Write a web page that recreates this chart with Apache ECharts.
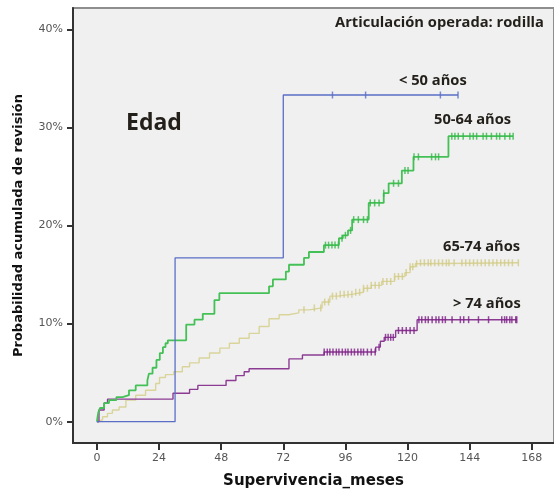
<!DOCTYPE html>
<html>
<head>
<meta charset="utf-8">
<script src="https://cdn.jsdelivr.net/npm/echarts@6/dist/echarts.min.js"></script>
<style>
html, body { margin: 0; padding: 0; background: #fff; }
#chart { width: 554px; height: 496px; }
</style>
</head>
<body>
<div id="chart"></div>
<script>
// 坐标轴刻度
const mesesTicks = [0, 24, 48, 72, 96, 120, 144, 168];
const porcentajeTicks = [0, 10, 20, 30, 40];

// 各年龄组累计概率曲线 [月, %]
const menos50 = [[0, 0], [30.2, 16.7], [72, 33.3], [139.5, 33.3]];
const de50a64 = [
  [0, 0], [0.5, 0.9], [1.2, 1.4], [2.8, 1.9], [4.7, 2.2], [7.5, 2.5], [9.9, 2.7],
  [12.4, 3.2], [15, 3.7], [19.5, 4.2], [20.1, 4.9], [21.5, 5.5], [23, 6.3],
  [24.3, 7.0], [25.5, 7.6], [26.5, 8.0], [27.4, 8.3], [34.5, 9.9], [37.7, 10.4],
  [40.9, 11.0], [45.4, 12.4], [47.3, 13.1], [66.5, 13.8], [68, 14.5], [73, 15.3],
  [74.2, 16.0], [80, 16.7], [81.9, 17.3], [87.7, 18.0], [93.5, 18.7], [95, 19.0],
  [97, 19.5], [98.6, 20.6], [105, 22.3], [110.8, 23.3], [112.7, 24.3],
  [117.8, 25.6], [122.3, 27.0], [135.8, 29.1], [160.8, 29.1]
];
const de65a74 = [
  [0, 0], [0.5, 0.2], [2.2, 0.5], [4.1, 0.85], [6, 1.2], [8.6, 1.5], [11.2, 2.2],
  [15, 2.7], [18.8, 3.2], [22.7, 3.9], [24.2, 4.5], [26.5, 4.8], [29.7, 5.1],
  [33, 5.6], [35.8, 6.0], [39.5, 6.5], [43.5, 7.0], [47.5, 7.5], [51.2, 8.0],
  [55, 8.5], [58.8, 9.0], [62.7, 9.7], [66.5, 10.5], [70.4, 10.9], [74, 11.1],
  [78, 11.4], [82, 11.6], [87, 12.2], [90, 12.8], [93, 13.0], [99, 13.2],
  [103, 13.6], [106, 13.9], [110, 14.3], [115, 14.8], [119, 15.2], [121, 15.8],
  [123, 16.1], [124.5, 16.2], [162.8, 16.2]
];
const mas74 = [
  [0, 0], [0.8, 1.2], [2.8, 1.9], [4.1, 2.3], [29.4, 2.9], [35.8, 3.3], [39, 3.7],
  [49.9, 4.2], [53.7, 4.7], [56.9, 5.1], [58.8, 5.4], [74.2, 6.4], [79.4, 6.8],
  [87.8, 7.1], [107.7, 7.6], [109.5, 8.2], [111, 8.6], [115.4, 9.3], [123.7, 10.4],
  [162.2, 10.4]
];

// 删失时间点（月）
const censMenos50 = [91, 103.8, 132.7, 139.5];
const cens50a64 = [
  88.3, 89.5, 90.8, 92, 93.3, 94.7, 96, 98, 99.2, 101, 103, 104.5, 105.6, 107.3,
  109, 110.8, 114.6, 116.5, 119, 120.2, 122.5, 124.2, 129.3, 130.8, 132, 137.1,
  138.3, 139.6, 141.5, 144.1, 145.4, 146.7, 149.2, 150.5, 152.4, 154.4, 155.6,
  157.6, 159.5, 160.8
];
const cens65a74 = [
  80, 84, 86.5, 88, 89.5, 91, 92.5, 94, 95.5, 97, 98.5, 100, 101.5, 103, 104.5,
  106, 107.5, 109, 110.5, 112, 113.5, 115, 116.5, 118, 119.5, 121, 122, 123.5,
  125, 126.5, 128, 129, 130.5, 132, 133.5, 135, 136, 138, 141, 142.5, 144, 145.5,
  147, 148.5, 150, 151.5, 153, 154.5, 156, 157.5, 159, 160.5, 162.8
];
const censMas74 = [
  87.8, 89, 90, 91.2, 92.5, 93.5, 94.8, 96, 97, 98.3, 99.5, 100.8, 102, 103, 104.5,
  106, 107.5, 109, 111.5, 112.5, 113.5, 114.5, 116.5, 118, 119.5, 121, 122.5, 124.4,
  125.5, 126.9, 128, 129.5, 131, 132.1, 133.5, 134.6, 137.2, 140.4, 141.7, 143.6,
  147.4, 151.3, 156.4, 157.5, 158.3, 159.5, 160.3, 161.8, 162.2
];

// 阶梯曲线在时间 t 的取值
function valorEn(curva, t) {
  let v = 0;
  for (const [x, y] of curva) {
    if (x <= t) v = y;
  }
  return v;
}

function serieCurva(curva, color, ancho) {
  return {
    type: 'line',
    step: 'end',
    data: curva,
    showSymbol: false,
    silent: true,
    lineStyle: { color: color, width: ancho },
    itemStyle: { color: color },
    z: 3
  };
}

function serieCensura(curva, tiempos, color) {
  return {
    type: 'scatter',
    data: tiempos.map(t => [t, valorEn(curva, t)]),
    symbol: 'rect',
    symbolSize: [1.5, 7],
    silent: true,
    itemStyle: { color: color },
    z: 4
  };
}

const fuenteEtiqueta = 'bold 14.7px "Open Sans"';
const etiquetas = [
  { text: 'Articulación operada: rodilla', x: 335, y: 23, font: fuenteEtiqueta },
  { text: 'Edad', x: 126, y: 123, font: 'bold 23px "Open Sans"' },
  { text: '< 50 años', x: 399, y: 81, font: fuenteEtiqueta },
  { text: '50-64 años', x: 434, y: 120, font: fuenteEtiqueta },
  { text: '65-74 años', x: 443, y: 247, font: fuenteEtiqueta },
  { text: '> 74 años', x: 453, y: 303.5, font: fuenteEtiqueta }
];

const chart = echarts.init(document.getElementById('chart'), null, { renderer: 'canvas' });

const option = {
  animation: false,
  backgroundColor: '#ffffff',
  grid: {
    left: 73, right: -2, top: 8, bottom: 53,
    show: true,
    backgroundColor: '#f0f0f0',
    borderColor: '#8e8e8e',
    borderWidth: 2
  },
  xAxis: {
    type: 'value',
    min: -9.23,
    max: 176.58,
    name: 'Supervivencia_meses',
    nameLocation: 'middle',
    nameGap: 31,
    nameTextStyle: { fontFamily: 'DejaVu Sans', fontWeight: 'bold', fontSize: 15, color: '#111' },
    axisLine: { onZero: false, lineStyle: { color: '#333', width: 2 } },
    axisTick: { customValues: mesesTicks, length: 7, lineStyle: { color: '#333', width: 2 } },
    axisLabel: {
      customValues: mesesTicks,
      margin: 10,
      fontFamily: 'DejaVu Sans', fontSize: 11, color: '#555'
    },
    splitLine: { show: false }
  },
  yAxis: {
    type: 'value',
    min: -2.17,
    max: 42.17,
    name: 'Probabilidad acumulada de revisión',
    nameLocation: 'middle',
    nameGap: 48,
    nameTextStyle: { fontFamily: 'DejaVu Sans', fontWeight: 'bold', fontSize: 13, color: '#111' },
    axisLine: { onZero: false, lineStyle: { color: '#333', width: 2 } },
    axisTick: { customValues: porcentajeTicks, length: 6, lineStyle: { color: '#333', width: 2 } },
    axisLabel: {
      customValues: porcentajeTicks,
      margin: 10,
      formatter: v => v + '%',
      fontFamily: 'DejaVu Sans', fontSize: 11, color: '#555'
    },
    splitLine: { show: false }
  },
  graphic: etiquetas.map(e => ({
    type: 'text',
    x: e.x,
    y: e.y,
    z: 10,
    style: { text: e.text, font: e.font, fill: '#231f1a', align: 'left', verticalAlign: 'middle' }
  })),
  series: [
    serieCurva(de65a74, '#d9d49a', 1.4),
    serieCensura(de65a74, cens65a74, '#d2cb86'),
    serieCurva(mas74, '#8c3b93', 1.4),
    serieCensura(mas74, censMas74, '#7d1f88'),
    serieCurva(de50a64, '#44c156', 1.8),
    serieCensura(de50a64, cens50a64, '#34b848'),
    serieCurva(menos50, '#5a6ec6', 1.3),
    serieCensura(menos50, censMenos50, '#5a6ec6')
  ]
};

chart.setOption(option);
window.addEventListener('resize', () => chart.resize());
</script>
</body>
</html>
